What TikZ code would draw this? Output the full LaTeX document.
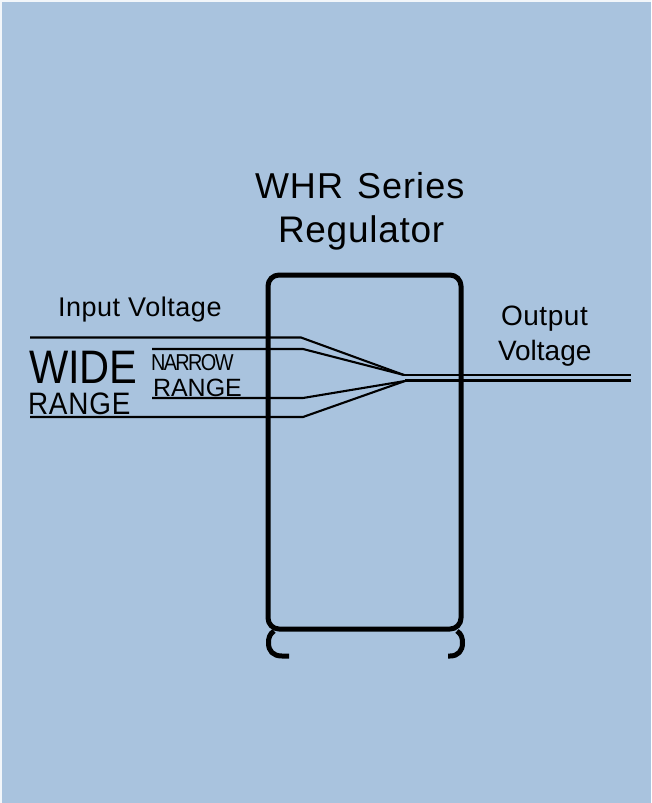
\documentclass[tikz,border=0pt]{standalone}
\usepackage{fontspec}
\setmainfont{Liberation Sans}
\definecolor{bgblue}{HTML}{A9C3DE}
\tikzset{
  lab/.style={inner sep=0pt,outer sep=0pt,anchor=base west,text=black},
  wire/.style={draw=black,line width=2.1pt,line join=miter},
  shell/.style={draw=black,line width=5pt,line join=round}
}
\newcommand{\fs}[1]{\fontsize{#1}{#1}\selectfont}
\begin{document}
\begin{tikzpicture}[x=1pt,y=-1pt]
\useasboundingbox (0,0) rectangle (651,803);
\fill[white!85!bgblue] (0,0) rectangle (651,803);
\fill[bgblue] (1.5,1.5) rectangle (651,803);
% coordinates
\coordinate (i1a) at (30,337.5);  \coordinate (i1b) at (301,337.5);
\coordinate (i2a) at (152,349);   \coordinate (i2b) at (303,349);
\coordinate (i3a) at (152,398);   \coordinate (i3b) at (303,398);
\coordinate (i4a) at (30,417);    \coordinate (i4b) at (303,417);
\coordinate (ju) at (404,375);    \coordinate (jl) at (405,381);
\coordinate (o1) at (631,375);    \coordinate (o2) at (631,380.5);
% regulator outline
\draw[shell,rounded corners=11pt] (268,275) rectangle (461,629);
\draw[shell,line cap=butt] (289,656) -- (282,656) .. controls (273,656) and (268.5,651) .. (268.5,643)
  .. controls (268.5,638) and (269.5,634) .. (274,631);
\draw[shell,line cap=butt] (448,656) -- (450,656) .. controls (458,656) and (462.5,651) .. (462.5,643)
  .. controls (462.5,638) and (461.5,634) .. (457,631);
% wires
\draw[wire] (i1a) -- (i1b) -- (ju);
\draw[wire] (i2a) -- (i2b) -- (ju);
\draw[wire] (i3a) -- (i3b) -- (jl);
\draw[wire] (i4a) -- (i4b) -- (jl);
\draw[wire] (ju) -- (o1);
\draw[wire] (jl |- o2) -- (o2);
% labels
\node[lab] (t1) at (255,198) {\fs{36}\addfontfeature{LetterSpace=2.9}WHR\hspace{3pt} Series};
\node[lab] (t2) at (278,242) {\fs{37}\addfontfeature{LetterSpace=2}Regulator};
\node[lab] (in) at (58,316) {\fs{27}\addfontfeature{LetterSpace=2}Input Voltage};
\node[lab] (ou) at (501,325) {\fs{28}\addfontfeature{LetterSpace=2}Output};
\node[lab] (ov) at (498,360) {\fs{28}Voltage};
\node[lab] (wd) at (29,383) {\scalebox{.885}[1]{\fs{47}WIDE}};
\node[lab] (wr) at (28,414) {\scalebox{.9}[1]{\fs{31}\addfontfeature{LetterSpace=3}RANGE}};
\node[lab] (nn) at (151,370) {\scalebox{.865}[1]{\fs{23}\addfontfeature{LetterSpace=-8}NARROW}};
\node[lab] (nr) at (153,396) {\fs{25}RANGE};
\end{tikzpicture}
\end{document}
